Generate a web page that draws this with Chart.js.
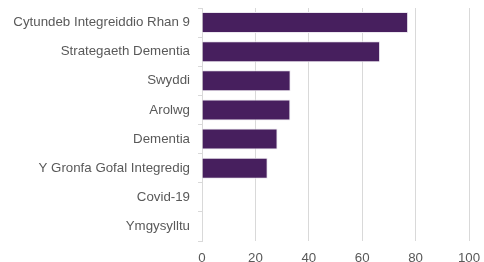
<!DOCTYPE html>
<html>
<head>
<meta charset="utf-8">
<script src="https://cdn.jsdelivr.net/npm/chart.js@4"></script>
<style>
  html, body { margin: 0; padding: 0; background: #fff; }
  #wrap { width: 484px; height: 262px; }
</style>
</head>
<body>
<div id="wrap"><canvas id="chart"></canvas></div>
<script>
// Data
const categories = [
    'Cytundeb Integreiddio Rhan 9',
    'Strategaeth Dementia',
    'Swyddi',
    'Arolwg',
    'Dementia',
    'Y Gronfa Gofal Integredig',
    'Covid-19',
    'Ymgysylltu'
];
const values = [77.2, 66.7, 33.2, 33.1, 28.3, 24.6, 0, 0];
const xTicks = [0, 20, 40, 60, 80, 100];

const gridGrey = '#d9d9d9';
const labelGrey = '#595959';
const labelFont = { family: 'Liberation Sans, Arial, sans-serif', size: 13.3 };

const ctx = document.getElementById('chart').getContext('2d');
new Chart(ctx, {
    type: 'bar',
    data: {
        labels: categories,
        datasets: [{
            data: values,
            backgroundColor: '#471f5e',
            borderColor: '#ebe7ef',
            borderWidth: 1,
            categoryPercentage: 1,
            barPercentage: 0.72
        }]
    },
    options: {
        indexAxis: 'y',
        responsive: true,
        maintainAspectRatio: false,
        animation: false,
        layout: { padding: { top: 8, right: 15, left: 0, bottom: 0 } },
        plugins: {
            legend: { display: false },
            tooltip: { enabled: false }
        },
        scales: {
            x: {
                min: 0,
                max: 100,
                afterBuildTicks: function(axis) {
                    axis.ticks = xTicks.map(v => ({ value: v }));
                },
                afterFit: function(axis) {
                    axis.height = 21;
                    axis.paddingLeft = 0;
                    axis.paddingRight = 0;
                },
                grid: { color: gridGrey, lineWidth: 1, drawTicks: false },
                border: { display: false },
                ticks: {
                    color: labelGrey,
                    font: labelFont,
                    padding: 9
                }
            },
            y: {
                afterFit: function(axis) {
                    axis.width = 202;
                    // no extra room for half label heights
                    axis.paddingTop = 0;
                    axis.paddingBottom = 0;
                },
                grid: {
                    offset: true,
                    drawOnChartArea: false,
                    color: gridGrey,
                    tickLength: 4
                },
                border: { display: true, color: gridGrey, width: 1 },
                ticks: {
                    color: labelGrey,
                    font: labelFont,
                    padding: 8
                }
            }
        }
    }
});
</script>
</body>
</html>
